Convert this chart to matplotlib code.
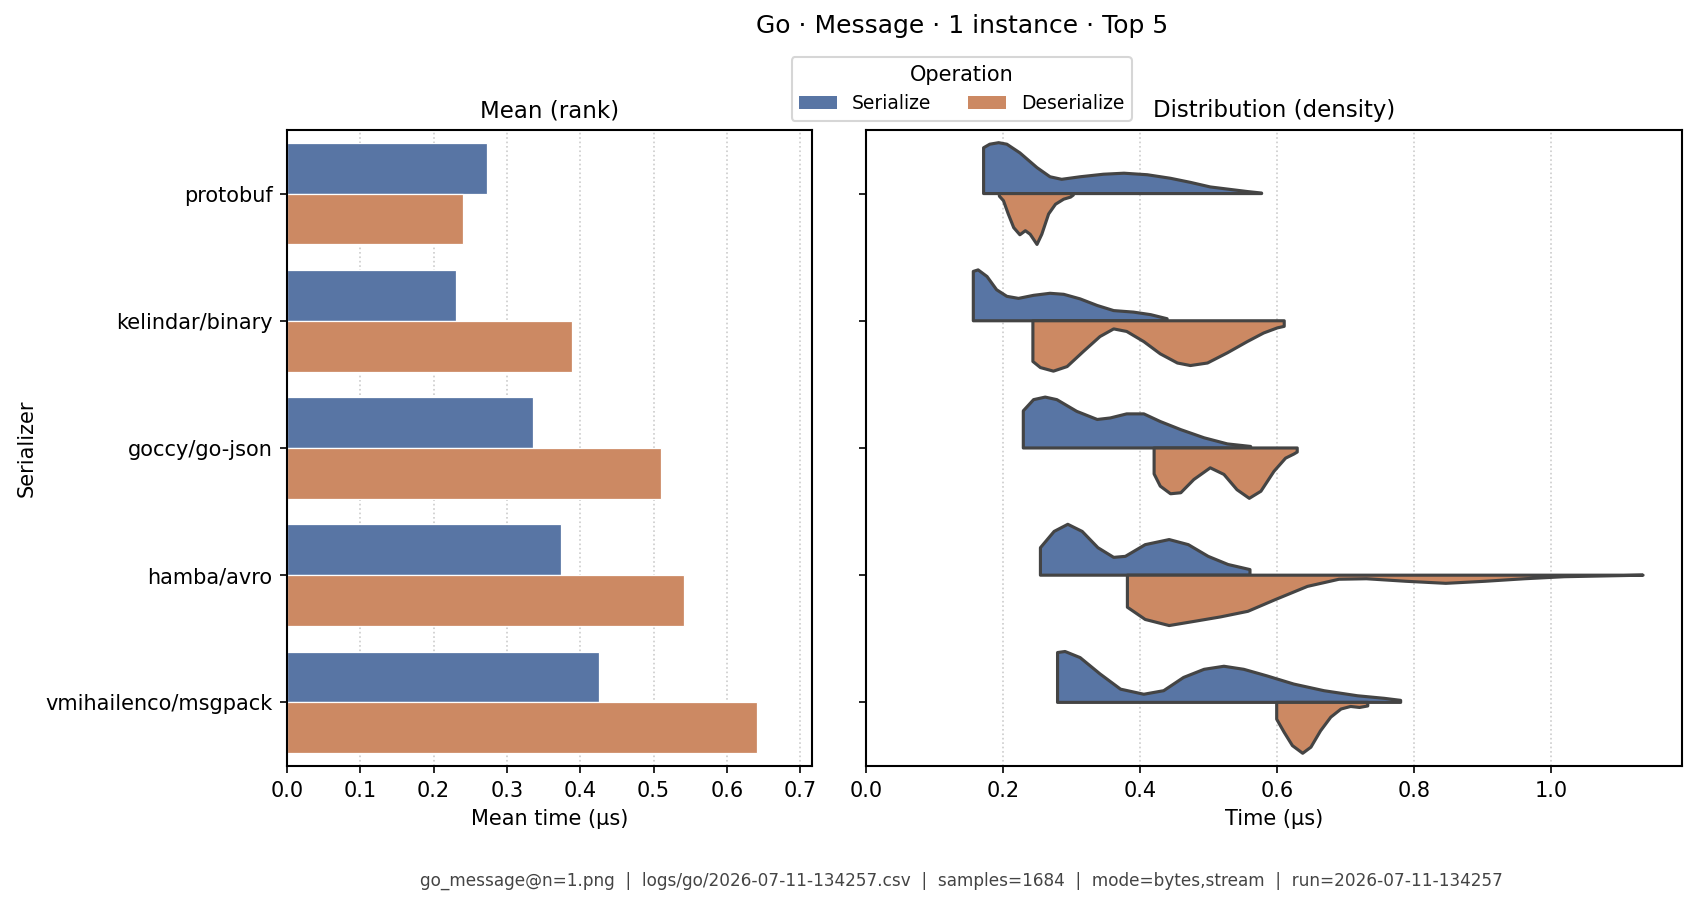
import matplotlib
matplotlib.use("Agg")
from matplotlib import pyplot as plt
from matplotlib.patches import Patch

# serializers, top to bottom
serializers = ["protobuf", "kelindar/binary", "goccy/go-json", "hamba/avro", "vmihailenco/msgpack"]
operations = ["Serialize", "Deserialize"]

# mean time (us) per serializer
mean_serialize = [0.273, 0.230, 0.335, 0.373, 0.426]
mean_deserialize = [0.240, 0.388, 0.510, 0.541, 0.641]

# density profiles: (time us, relative density 0..1)
protobuf_ser = [(0.171, 0.90), (0.180, 0.97), (0.193, 1.00), (0.205, 0.97), (0.224, 0.80),
                (0.249, 0.51), (0.268, 0.33), (0.285, 0.28), (0.312, 0.33), (0.346, 0.38),
                (0.376, 0.40), (0.410, 0.37), (0.444, 0.30), (0.473, 0.22), (0.502, 0.13),
                (0.532, 0.08), (0.556, 0.04), (0.577, 0.01)]
protobuf_de = [(0.194, 0.05), (0.200, 0.14), (0.207, 0.40), (0.215, 0.67), (0.224, 0.81),
               (0.232, 0.73), (0.239, 0.80), (0.249, 1.00), (0.256, 0.80), (0.266, 0.40),
               (0.276, 0.21), (0.288, 0.11), (0.298, 0.07), (0.302, 0.03)]
kelindar_ser = [(0.156, 0.97), (0.163, 1.00), (0.176, 0.87), (0.190, 0.61), (0.205, 0.48),
                (0.222, 0.44), (0.244, 0.50), (0.268, 0.54), (0.288, 0.52), (0.312, 0.43),
                (0.337, 0.30), (0.361, 0.20), (0.390, 0.17), (0.415, 0.12), (0.439, 0.04)]
kelindar_de = [(0.243, 0.80), (0.254, 0.92), (0.273, 0.99), (0.293, 0.90), (0.317, 0.60),
               (0.341, 0.31), (0.361, 0.16), (0.380, 0.21), (0.405, 0.41), (0.429, 0.65),
               (0.454, 0.83), (0.473, 0.88), (0.498, 0.83), (0.527, 0.63), (0.556, 0.41),
               (0.580, 0.24), (0.600, 0.14), (0.610, 0.11)]
goccy_ser = [(0.229, 0.73), (0.244, 0.95), (0.261, 1.00), (0.278, 0.95), (0.307, 0.72),
             (0.337, 0.56), (0.356, 0.59), (0.380, 0.67), (0.405, 0.67), (0.429, 0.52),
             (0.459, 0.36), (0.493, 0.20), (0.527, 0.08), (0.561, 0.03)]
goccy_de = [(0.420, 0.51), (0.429, 0.75), (0.444, 0.90), (0.459, 0.88), (0.478, 0.62),
            (0.502, 0.39), (0.522, 0.52), (0.541, 0.82), (0.559, 0.99), (0.576, 0.85),
            (0.595, 0.46), (0.612, 0.20), (0.624, 0.12), (0.629, 0.08)]
hamba_ser = [(0.254, 0.54), (0.274, 0.86), (0.294, 1.00), (0.315, 0.86), (0.338, 0.54),
             (0.361, 0.35), (0.378, 0.37), (0.407, 0.60), (0.442, 0.70), (0.470, 0.60),
             (0.499, 0.37), (0.528, 0.21), (0.560, 0.11)]
hamba_de = [(0.381, 0.63), (0.407, 0.87), (0.442, 0.99), (0.482, 0.90), (0.517, 0.82),
            (0.557, 0.71), (0.597, 0.48), (0.644, 0.22), (0.690, 0.08), (0.730, 0.07),
            (0.788, 0.12), (0.846, 0.16), (0.903, 0.12), (0.961, 0.07), (1.019, 0.03),
            (1.134, 0.00)]
vmih_ser = [(0.279, 0.98), (0.290, 1.00), (0.312, 0.88), (0.341, 0.56), (0.371, 0.26),
            (0.405, 0.16), (0.434, 0.23), (0.463, 0.49), (0.493, 0.65), (0.522, 0.71),
            (0.551, 0.65), (0.585, 0.52), (0.624, 0.36), (0.668, 0.23), (0.717, 0.13),
            (0.756, 0.08), (0.780, 0.04)]
vmih_de = [(0.599, 0.33), (0.610, 0.59), (0.622, 0.85), (0.637, 1.00), (0.649, 0.88),
           (0.663, 0.56), (0.678, 0.29), (0.693, 0.13), (0.707, 0.08), (0.720, 0.10),
           (0.732, 0.07)]

violins_ser = [protobuf_ser, kelindar_ser, goccy_ser, hamba_ser, vmih_ser]
violins_de = [protobuf_de, kelindar_de, goccy_de, hamba_de, vmih_de]

footer = ("go_message@n=1.png  |  logs/go/2026-07-11-134257.csv  |  samples=1684  |  "
          "mode=bytes,stream  |  run=2026-07-11-134257")

blue = "#5875a4"
orange = "#cc8963"
edge = "#444444"

fig = plt.figure(figsize=(1696 / 150, 905 / 150), dpi=150)
axL = fig.add_axes([0.1692, 0.1536, 0.3096, 0.7028])
axR = fig.add_axes([0.5109, 0.1536, 0.4809, 0.7028], sharey=axL)

# left: mean bars
ypos = list(range(len(serializers)))
axL.barh([y - 0.2 for y in ypos], mean_serialize, height=0.4, color=blue,
         edgecolor="white", linewidth=0.6, zorder=2)
axL.barh([y + 0.2 for y in ypos], mean_deserialize, height=0.4, color=orange,
         edgecolor="white", linewidth=0.6, zorder=2)
axL.set_xlim(0, 0.716)
axL.set_ylim(len(serializers) - 0.5, -0.5)
axL.set_yticks(ypos)
axL.set_yticklabels(serializers)
axL.set_xticks([0.0, 0.1, 0.2, 0.3, 0.4, 0.5, 0.6, 0.7])
axL.set_xlabel("Mean time (µs)")
axL.set_ylabel("Serializer")
axL.set_title("Mean (rank)", fontsize=11)

# right: split violins, serialize above the line, deserialize below
half = 0.4
for i in range(len(serializers)):
    for prof, sign, col in ((violins_ser[i], -1, blue), (violins_de[i], 1, orange)):
        xs = [prof[0][0]] + [p[0] for p in prof] + [prof[-1][0]]
        ys = [i] + [i + sign * half * p[1] for p in prof] + [i]
        axR.fill(xs, ys, facecolor=col, edgecolor=edge, linewidth=1.5,
                 joinstyle="round", zorder=2)
axR.set_xlim(0, 1.191)
axR.set_xticks([0.0, 0.2, 0.4, 0.6, 0.8, 1.0])
axR.set_xlabel("Time (µs)")
axR.set_title("Distribution (density)", fontsize=11)
axR.tick_params(axis="y", labelleft=False)

for ax in (axL, axR):
    ax.grid(axis="x", linestyle=":", color="#cccccc", linewidth=0.8, zorder=0)
    ax.set_axisbelow(True)
    for s in ax.spines.values():
        s.set_linewidth(1.0)
    ax.tick_params(labelsize=10)

handles = [Patch(facecolor=blue, label=operations[0]),
           Patch(facecolor=orange, label=operations[1])]
fig.legend(handles=handles, title="Operation", ncol=2, loc="upper center",
           bbox_to_anchor=(0.567, 0.947), fontsize=9, title_fontsize=10,
           frameon=True, edgecolor="#cccccc")

fig.suptitle("Go · Message · 1 instance · Top 5", x=0.567, y=0.985, fontsize=12)
fig.text(0.567, 0.027, footer, ha="center", va="center", fontsize=8.1, color="#444444")

fig.savefig("out.png", dpi=150)
